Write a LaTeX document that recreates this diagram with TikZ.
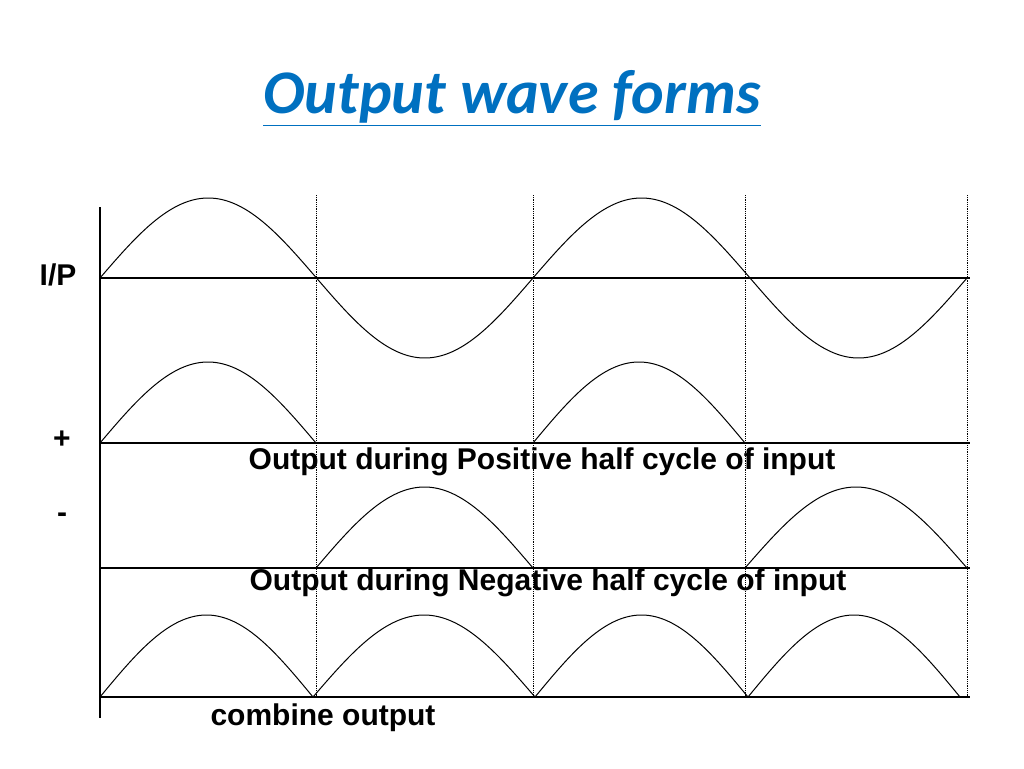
\documentclass[tikz,border=0pt]{standalone}
\usepackage{fontspec}
\setmainfont{Liberation Sans}
\newfontfamily\titlefont{Carlito}
\usetikzlibrary{positioning}
\definecolor{titleblue}{RGB}{0,112,192}

\begin{document}
\begin{tikzpicture}[
    x=1pt, y=-1pt,
    axisline/.style={line width=1.6pt},
    wave/.style={line width=1pt},
    guide/.style={densely dotted, line width=0.8pt},
    lbl/.style={font=\fontsize{30}{34}\selectfont\bfseries, inner sep=0pt}
]
\useasboundingbox (0,0) rectangle (1024,768);

% Title
\node[font=\titlefont\fontsize{62}{70}\selectfont\bfseries\itshape, text=titleblue] (title) at (512,98) {\underline{Output wave forms}};

% Axes
\coordinate (ytop) at (100,207);
\coordinate (ybot) at (100,718);
\draw[axisline] (ytop) -- (ybot);
\foreach \yy in {278,443,568,697}
  \draw[axisline] (100,\yy) -- (970,\yy);

% Dotted guides
\foreach \xx in {316,533,745,967}
  \draw[guide] (\xx,195) -- (\xx,697);

% Input sine wave
\foreach \xs/\xe in {100/533,533/967}
  \draw[wave] plot[domain=0:360, samples=90, smooth] ({\xs+(\xe-\xs)/360*\x}, {278-80*sin(\x)});

% Positive half cycles
\foreach \xs/\xe in {100/316,533/745}
  \draw[wave] plot[domain=0:180, samples=45, smooth] ({\xs+(\xe-\xs)/180*\x}, {443-81*sin(\x)});

% Negative half cycles
\foreach \xs/\xe in {316/533,745/967}
  \draw[wave] plot[domain=0:180, samples=45, smooth] ({\xs+(\xe-\xs)/180*\x}, {568-81*sin(\x)});

% Combined output
\foreach \xs/\xe in {100/313,313/535,535/748,748/960}
  \draw[wave] plot[domain=0:180, samples=45, smooth] ({\xs+(\xe-\xs)/180*\x}, {697-82*sin(\x)});

% Labels
\node[lbl] (ip) at (58,275) {I/P};
\node[lbl] (plus) at (62,440) {+};
\node[lbl] (minus) at (62,518) {-};
\node[lbl] (poslbl) at (542,462) {Output during Positive half cycle of input};
\node[lbl] (neglbl) at (548,583) {Output during Negative half cycle of input};
\node[lbl] (comblbl) at (323,718) {combine output};

\end{tikzpicture}
\end{document}
